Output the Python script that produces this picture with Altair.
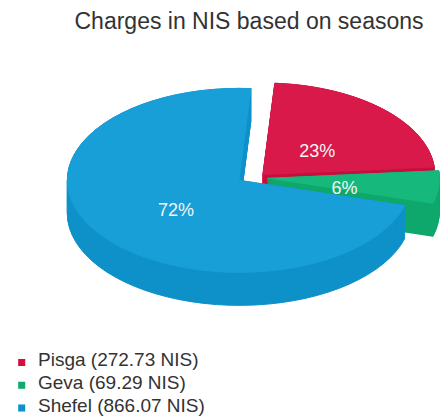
import math
import altair as alt
import pandas as pd

# ---- data ----
names = ["Pisga", "Geva", "Shefel"]
values = [272.73, 69.29, 866.07]
top_colors = ["#d8194a", "#17b87b", "#189fd7"]
side_colors = ["#c70f3f", "#0fa86c", "#0e91c9"]
legend_colors = ["#d0103f", "#12a96c", "#1090cc"]
TITLE = "Charges in NIS based on seasons"

# ---- layout constants ----
W, H = 432, 408
CX, CY = 244, 170       # pie centre in view pixels
RX, RY = 172, 92        # ellipse radii in pixels
DEPTH = 33              # pie thickness in pixels
START = math.radians(4)
EXPLODE = 0.09
N = 60
FONT = "Liberation Sans"

labels = [f"{n} ({v:.2f} NIS)" for n, v in zip(names, values)]
df = pd.DataFrame({"name": names, "value": values, "k": list(range(len(names))), "label": labels})

x_scale = alt.Scale(domain=[-CX / RX, (W - CX) / RX], range=[0, W], nice=False, zero=False)
y_scale = alt.Scale(domain=[-(H - CY) / RY, CY / RY], range=[H, 0], nice=False, zero=False)
leg_scale = alt.Scale(type="point", domain=labels, range=[358, 403.5], padding=0)
col_scale = alt.Scale(domain=labels, range=legend_colors)

base = (
    alt.Chart(df)
    .transform_joinaggregate(total="sum(value)")
    .transform_window(cum="sum(value)", sort=[alt.SortField("k", order="ascending")], frame=[None, 0])
    .transform_calculate(a0=f"{START} + 2*PI*(datum.cum - datum.value)/datum.total")
    .transform_calculate(a1=f"{START} + 2*PI*datum.cum/datum.total")
    .transform_calculate(mid="(datum.a0 + datum.a1)/2")
    .transform_calculate(ex=f"{EXPLODE}*sin(datum.mid)")
    .transform_calculate(ey=f"0.5*{EXPLODE}*cos(datum.mid)")
    .transform_calculate(pct="format(datum.value/datum.total, '.0%')")
    .transform_calculate(lx="datum.ex + 0.45*sin(datum.mid)")
    .transform_calculate(ly="datum.ey + 0.45*cos(datum.mid) - 0.07")
)


def geo(name):
    return (
        base.transform_filter(alt.datum.name == name)
        .transform_calculate(idx=f"sequence(0, {N + 2})")
        .transform_flatten(["idx"])
        .transform_calculate(ang=f"datum.a0 + (datum.idx - 1)*(datum.a1 - datum.a0)/{N}")
        .transform_calculate(px="datum.idx == 0 ? datum.ex : datum.ex + sin(datum.ang)")
        .transform_calculate(py="datum.idx == 0 ? datum.ey : datum.ey + cos(datum.ang)")
    )


layers = []
draw_order = ["Pisga", "Geva", "Shefel"]
for nm in draw_order:
    i = names.index(nm)
    side = (
        geo(nm)
        .transform_calculate(dz=f"sequence(0, {DEPTH + 1})")
        .transform_flatten(["dz"])
        .transform_calculate(pys=f"datum.py - datum.dz/{RY}")
        .mark_line(fill=side_colors[i], stroke=side_colors[i], strokeWidth=1)
        .encode(
            x=alt.X("px:Q", scale=x_scale, axis=None),
            y=alt.Y("pys:Q", scale=y_scale, axis=None),
            detail="dz:N",
            order="idx:Q",
        )
    )
    top = (
        geo(nm)
        .mark_line(fill=top_colors[i], stroke=top_colors[i], strokeWidth=1)
        .encode(
            x=alt.X("px:Q", scale=x_scale, axis=None),
            y=alt.Y("py:Q", scale=y_scale, axis=None),
            order="idx:Q",
        )
    )
    layers += [side, top]

text = base.mark_text(font=FONT, fontSize=18, color="#f4f4f4").encode(
    x=alt.X("lx:Q", scale=x_scale, axis=None),
    y=alt.Y("ly:Q", scale=y_scale, axis=None),
    text="pct:N",
)

leg_sq = base.mark_square(size=50, opacity=1, yOffset=-3.5).encode(
    x=alt.value(13.7),
    y=alt.Y("label:N", scale=leg_scale, axis=None),
    color=alt.Color("label:N", scale=col_scale, legend=None),
)

leg_txt = base.mark_text(
    font=FONT, fontSize=19, color="#333333", align="left", baseline="alphabetic"
).encode(
    x=alt.value(30),
    y=alt.Y("label:N", scale=leg_scale, axis=None),
    text="label:N",
)

chart = (
    alt.layer(*layers, text, leg_sq, leg_txt)
    .resolve_scale(y="independent")
    .properties(
        width=W,
        height=H,
        padding=0,
        autosize=alt.AutoSizeParams(type="none"),
        title=alt.TitleParams(
            TITLE, anchor="middle", fontSize=23, font=FONT, fontWeight="normal",
            color="#333333", dx=25, dy=30,
        ),
    )
    .configure_view(stroke=None)
)

chart.save("out.html", embed_options={"renderer": "svg", "actions": False})
